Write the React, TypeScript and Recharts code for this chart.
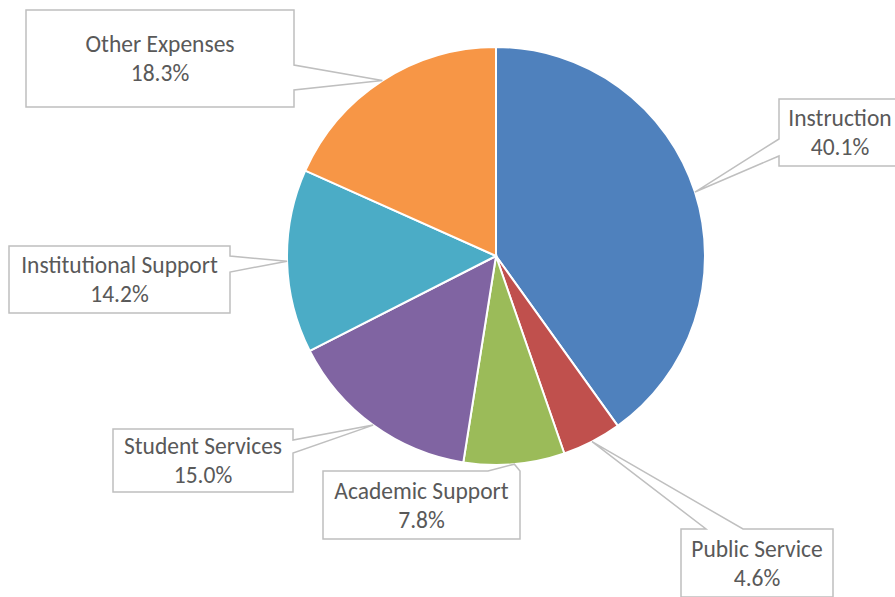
import React from 'react';
import { PieChart, Pie, Cell } from 'recharts';

const categories = ['Instruction', 'Public Service', 'Academic Support', 'Student Services', 'Institutional Support', 'Other Expenses'];
const shares = [40.1, 4.6, 7.8, 15.0, 14.2, 18.3];
const COLORS = ['#4F81BD', '#C0504D', '#9BBB59', '#8064A2', '#4BACC6', '#F79646'];

const data = categories.map((name, i) => ({ name, value: shares[i] }));

// callout box placement, one per slice (same order as categories)
type Side = 'left' | 'right' | 'top';
const callouts: { x: number; y: number; w: number; h: number; side: Side; b1: number; b2: number }[] = [
  { x: 779, y: 99, w: 122, h: 67, side: 'left', b1: 139, b2: 156 },
  { x: 681, y: 529, w: 152, h: 68, side: 'top', b1: 706, b2: 743 },
  { x: 323, y: 471, w: 197, h: 68, side: 'top', b1: 488, b2: 520 },
  { x: 113, y: 429, w: 180, h: 63, side: 'right', b1: 440, b2: 453 },
  { x: 9, y: 246, w: 221, h: 67, side: 'right', b1: 256, b2: 272 },
  { x: 26, y: 10, w: 268, h: 97, side: 'right', b1: 65, b2: 90 },
];

const RAD = Math.PI / 180;
const FONT = 'Carlito, Lato, "Open Sans", sans-serif';

const renderCallout = (props: any) => {
  const { cx, cy, midAngle, outerRadius, index, name, value } = props;
  const c = callouts[index];
  if (!c) return null;
  const tx = cx + outerRadius * Math.cos(-midAngle * RAD);
  const ty = cy + outerRadius * Math.sin(-midAngle * RAD);
  const { x, y, w, h, side, b1, b2 } = c;
  let d = `M${x},${y}`;
  if (side === 'top') d += ` L${b1},${y} L${tx},${ty} L${b2},${y}`;
  d += ` L${x + w},${y}`;
  if (side === 'right') d += ` L${x + w},${b1} L${tx},${ty} L${x + w},${b2}`;
  d += ` L${x + w},${y + h} L${x},${y + h}`;
  if (side === 'left') d += ` L${x},${b2} L${tx},${ty} L${x},${b1}`;
  d += ' Z';
  const mx = x + w / 2;
  const my = y + h / 2;
  return (
    <g key={`callout-${index}`}>
      <path d={d} fill="#FFFFFF" stroke="#BFBFBF" strokeWidth={1.5} />
      <text x={mx} y={my - 14.5} textAnchor="middle" dominantBaseline="central" fill="#595959" fontSize={23.5} fontFamily={FONT}>
        {name}
      </text>
      <text x={mx} y={my + 14.5} textAnchor="middle" dominantBaseline="central" fill="#595959" fontSize={23.5} fontFamily={FONT}>
        {`${Number(value).toFixed(1)}%`}
      </text>
    </g>
  );
};

const App: React.FC = () => {
  return (
    <div style={{ position: 'absolute', left: 0, top: 0, width: 895, height: 597, background: '#FFFFFF' }}>
      <PieChart width={895} height={597} margin={{ top: 0, right: 0, bottom: 0, left: 0 }}>
        <Pie
          data={data}
          dataKey="value"
          nameKey="name"
          cx={496}
          cy={256}
          outerRadius={209}
          startAngle={90}
          endAngle={-270}
          stroke="#FFFFFF"
          strokeWidth={2}
          labelLine={false}
          label={renderCallout}
          isAnimationActive={false}
        >
          {data.map((_, index) => (
            <Cell key={`cell-${index}`} fill={COLORS[index % COLORS.length]} />
          ))}
        </Pie>
      </PieChart>
    </div>
  );
};

export default App;
